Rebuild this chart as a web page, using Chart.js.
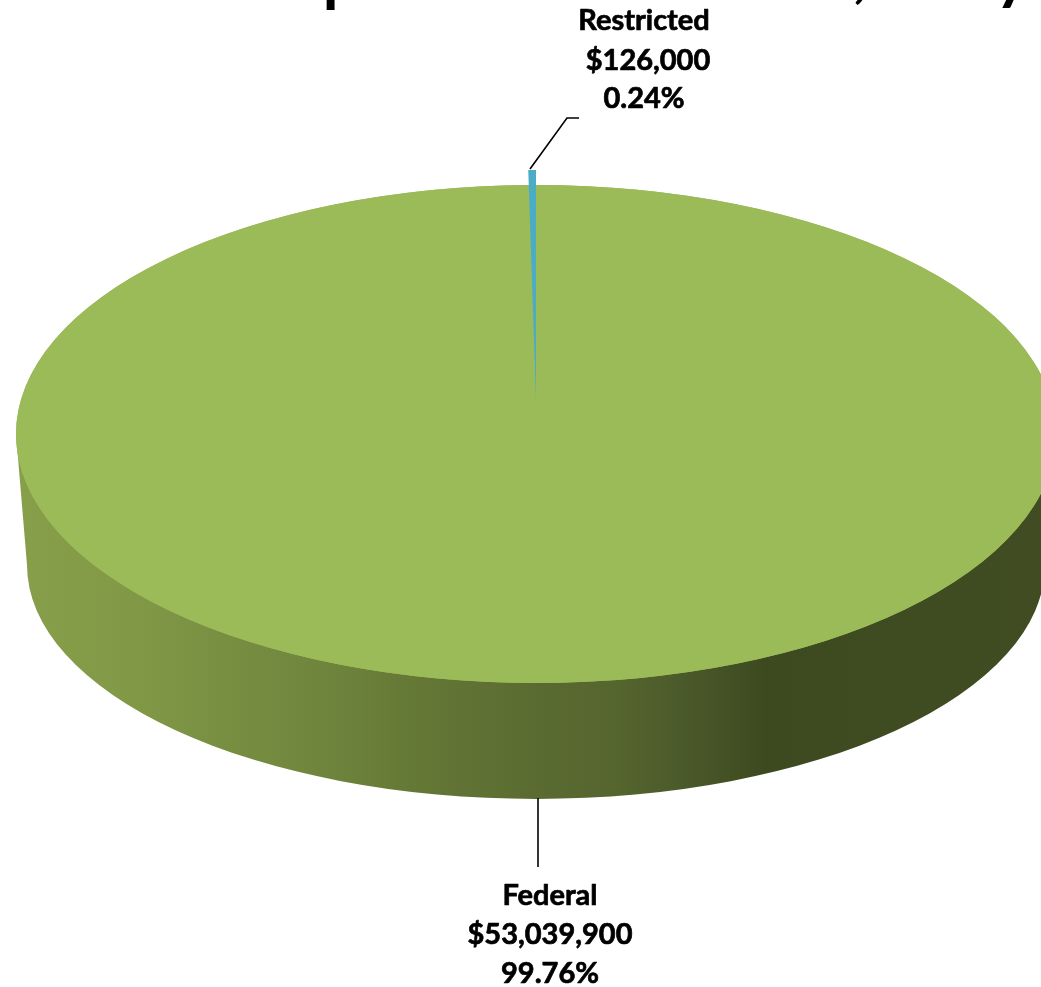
<!DOCTYPE html>
<html>
<head>
<meta charset="utf-8">
<style>html,body{margin:0;padding:0;background:#fff;overflow:hidden}canvas{display:block}</style>
<script src="https://cdn.jsdelivr.net/npm/chart.js@4"></script>
</head>
<body>
<canvas id="c" width="1041" height="987"></canvas>
<script>
const categories = ['Federal', 'Restricted'];
const values = [53039900, 126000];
const percentLabels = ['99.76%', '0.24%'];
const sliceColors = ['#9BBB59', '#4BACC6'];
const titleGlyphs = [['p', 341, 0], [',', 860, -4], ['y', 1012, -2]];

const FONT = 'bold 29px Lato, "Open Sans", sans-serif';
const TOP = {x: 536, y: 434, rx: 520, ry: 249};
const BASE = {x: 536, y: 565, rx: 509, ry: 234};
const SLICE_VIEW = [
  {x: 536, y: 434, rx: 520, ry: 249},
  {x: 536, y: 400, rx: 520, ry: 230}
];
const LABEL_VIEW = [
  {lineX: [550, 550, 550], lineY: [896, 935, 974], leader: [[538, 798], [538, 867]]},
  {lineX: [644, 648, 644], lineY: [21, 61, 99], leader: [[530, 169], [567, 118], [579, 118]]}
];
const SIDE_STOPS = [
  [0.00, '#879F4A'], [0.10, '#829A47'], [0.20, '#788F42'], [0.30, '#6E843C'],
  [0.40, '#637635'], [0.50, '#5A6B31'], [0.58, '#55652E'], [0.64, '#4B5A2A'],
  [0.72, '#3D4A20'], [1.00, '#414C22']
];

const pie3d = {
  id: 'pie3d',
  beforeDatasetDraw(chart, args) {
    const ctx = chart.ctx, meta = args.meta;
    const g = ctx.createLinearGradient(TOP.x - TOP.rx, 0, TOP.x + TOP.rx, 0);
    SIDE_STOPS.forEach(s => g.addColorStop(s[0], s[1]));
    ctx.save();
    ctx.fillStyle = g;
    ctx.beginPath();
    ctx.moveTo(TOP.x - TOP.rx, TOP.y);
    ctx.lineTo(BASE.x - BASE.rx, BASE.y);
    ctx.ellipse(BASE.x, BASE.y, BASE.rx, BASE.ry, 0, Math.PI, 0, true);
    ctx.lineTo(TOP.x + TOP.rx, TOP.y);
    ctx.closePath();
    ctx.fill();
    ctx.fillStyle = sliceColors[0];
    ctx.beginPath();
    ctx.ellipse(TOP.x, TOP.y, TOP.rx, TOP.ry, 0, 0, Math.PI * 2);
    ctx.fill();
    ctx.restore();
    meta.data.forEach((arc, i) => {
      const v = SLICE_VIEW[i], R = arc.outerRadius;
      ctx.save();
      ctx.translate(v.x, v.y);
      ctx.scale(v.rx / R, v.ry / R);
      ctx.translate(-arc.x, -arc.y);
      arc.draw(ctx, chart.chartArea);
      ctx.restore();
    });
    return false;
  },
  afterDraw(chart) {
    const ctx = chart.ctx;
    ctx.save();
    ctx.strokeStyle = '#000';
    ctx.lineWidth = 1.6;
    LABEL_VIEW.forEach(v => {
      ctx.beginPath();
      v.leader.forEach((p, i) => i ? ctx.lineTo(p[0], p[1]) : ctx.moveTo(p[0], p[1]));
      ctx.stroke();
    });
    ctx.fillStyle = '#000';
    ctx.lineWidth = 0.7;
    ctx.lineJoin = 'round';
    ctx.textAlign = 'center';
    ctx.textBaseline = 'middle';
    ctx.font = FONT;
    categories.forEach((name, i) => {
      const lines = [name, '$' + values[i].toLocaleString('en-US'), percentLabels[i]];
      lines.forEach((t, k) => {
        ctx.fillText(t, LABEL_VIEW[i].lineX[k], LABEL_VIEW[i].lineY[k]);
        ctx.strokeText(t, LABEL_VIEW[i].lineX[k], LABEL_VIEW[i].lineY[k]);
      });
    });
    ctx.font = 'bold 64px Lato, sans-serif';
    ctx.textBaseline = 'alphabetic';
    titleGlyphs.forEach(g => ctx.fillText(g[0], g[1], g[2]));
    ctx.restore();
  }
};

new Chart(document.getElementById('c'), {
  type: 'pie',
  data: {
    labels: categories,
    datasets: [{data: values, backgroundColor: sliceColors, borderWidth: 0, hoverOffset: 0}]
  },
  options: {
    responsive: false,
    animation: false,
    rotation: 0,
    events: [],
    plugins: {legend: {display: false}, tooltip: {enabled: false}, title: {display: false}}
  },
  plugins: [pie3d]
});
</script>
</body>
</html>
